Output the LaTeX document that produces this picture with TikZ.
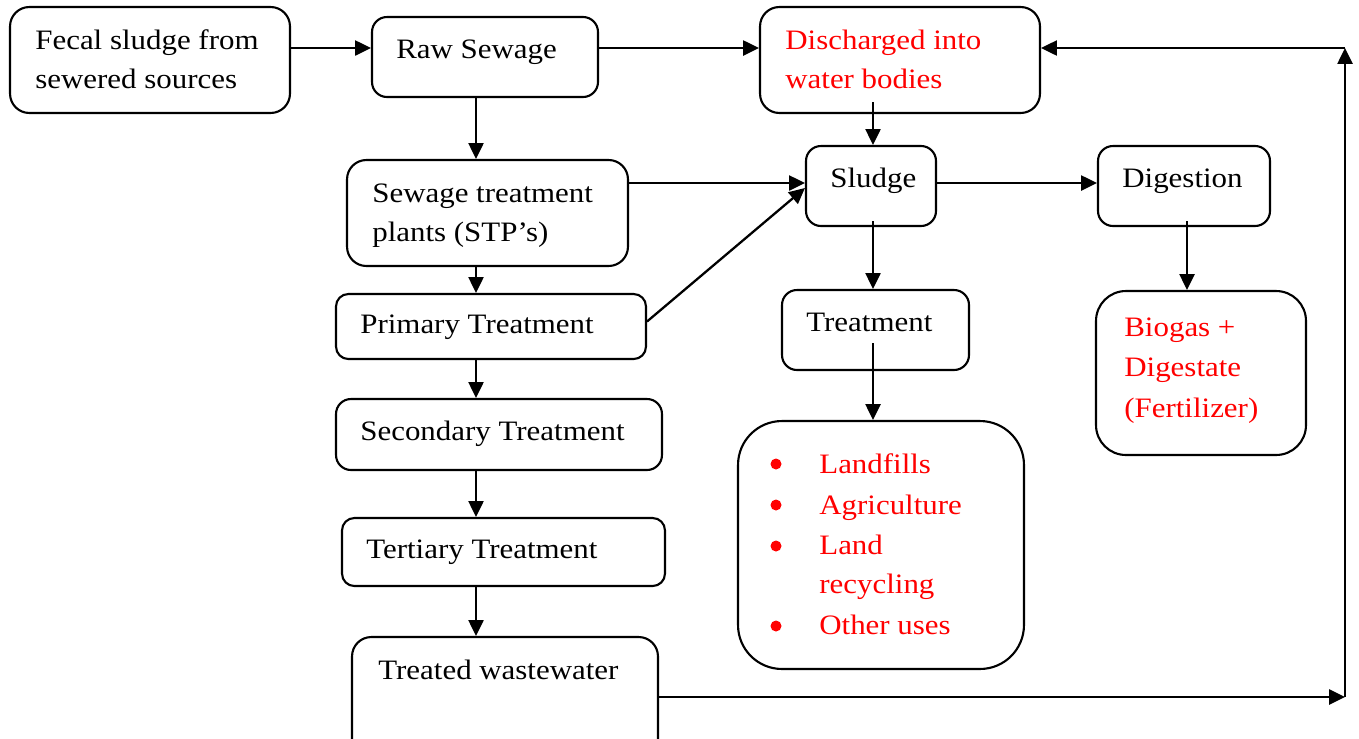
\documentclass[tikz,border=0pt]{standalone}
\usepackage{fontspec}
\setmainfont{Liberation Serif}[FakeStretch=1.1]
\usetikzlibrary{arrows.meta}
\definecolor{outred}{RGB}{255,0,0}
\begin{document}
\begin{tikzpicture}[x=0.02cm, y=-0.02cm,
  box/.style={draw, line width=1.2pt, rounded corners=8.5pt, inner sep=0pt},
  lbl/.style={anchor=base west, inner sep=0pt, align=left,
    font=\fontsize{16}{22.2}\selectfont},
  redlbl/.style={lbl, text=outred},
  dot/.style={circle, fill=outred, inner sep=0pt, minimum size=0.22cm},
  flow/.style={line width=1.3pt, -{Triangle[length=9pt, width=8.5pt]}}]
\useasboundingbox (0,0) rectangle (1359,738);

% boxes
\node[box, rounded corners=11pt, minimum width=5.6cm, minimum height=2.12cm] (fecal) at (150,60) {};
\node[box, minimum width=4.52cm, minimum height=1.6cm] (raw) at (485,57) {};
\node[box, rounded corners=11pt, minimum width=5.6cm, minimum height=2.12cm] (dis) at (900,60) {};
\node[box, rounded corners=11pt, minimum width=5.62cm, minimum height=2.12cm] (stp) at (487.5,213) {};
\node[box, rounded corners=7pt, minimum width=6.2cm, minimum height=1.3cm] (prim) at (491,326.5) {};
\node[box, minimum width=6.52cm, minimum height=1.42cm] (sec) at (499,434.5) {};
\node[box, rounded corners=7pt, minimum width=6.46cm, minimum height=1.36cm] (ter) at (503.5,552) {};
\node[box, rounded corners=11pt, minimum width=6.12cm, minimum height=2.46cm] (tww) at (505,698.5) {};
\node[box, minimum width=2.6cm, minimum height=1.6cm] (sludge) at (871,186) {};
\node[box, minimum width=3.44cm, minimum height=1.6cm] (dig) at (1184,186) {};
\node[box, minimum width=3.74cm, minimum height=1.6cm] (treat) at (875.5,330) {};
\node[box, rounded corners=25pt, minimum width=5.72cm, minimum height=4.96cm] (uses) at (881,545) {};
\node[box, rounded corners=17pt, minimum width=4.2cm, minimum height=3.28cm] (bio) at (1201,373) {};

% box texts (multi-line texts are placed by their last baseline)
\node[lbl] (fecal-t) at (35,88) {Fecal sludge from\\sewered sources};
\node[lbl] (raw-t) at (396,58) {Raw Sewage};
\node[redlbl] (dis-t) at (785,88) {Discharged into\\water bodies};
\node[lbl] (stp-t) at (372,241) {Sewage treatment\\plants (STP’s)};
\node[lbl] (prim-t) at (360,333) {Primary Treatment};
\node[lbl] (sec-t) at (360,440) {Secondary Treatment};
\node[lbl] (ter-t) at (366,558) {Tertiary Treatment};
\node[lbl] (tww-t) at (378,679) {Treated wastewater};
\node[lbl] (sludge-t) at (830,187) {Sludge};
\node[lbl] (dig-t) at (1122,187) {Digestion};
\node[lbl] (treat-t) at (806,331) {Treatment};
\node[redlbl, font=\fontsize{16}{22.8}\selectfont] (bio-t) at (1124,417) {Biogas +\\Digestate\\(Fertilizer)};

% list of sludge uses
\node[dot] (b1) at (776,464) {};
\node[dot] (b2) at (776,505) {};
\node[dot] (b3) at (776,546) {};
\node[dot] (b4) at (776,626) {};
\node[redlbl] (u1) at (819,473) {Landfills};
\node[redlbl] (u2) at (819,514) {Agriculture};
\node[redlbl] (u3) at (819,593) {Land\\recycling};
\node[redlbl] (u4) at (819,634) {Other uses};

% guide positions for the connectors
\coordinate (top) at (0,48);
\coordinate (mid) at (0,183);
\coordinate (colA) at (476,0);
\coordinate (colB) at (873,0);
\coordinate (colC) at (1187,0);
\coordinate (c1) at (1345,697);
\coordinate (c2) at (1345,48);

% connectors
\draw[flow] (fecal.east |- top) -- (raw.west |- top);
\draw[flow] (raw.east |- top) -- (dis.west |- top);
\draw[flow] (raw.south -| colA) -- (stp.north -| colA);
\draw[flow] (stp.south -| colA) -- (prim.north -| colA);
\draw[flow] (prim.south -| colA) -- (sec.north -| colA);
\draw[flow] (sec.south -| colA) -- (ter.north -| colA);
\draw[flow] (ter.south -| colA) -- (tww.north -| colA);
\draw[flow] (stp.east |- mid) -- (sludge.west |- mid);
\draw[flow] ([yshift=0.1cm]prim.east) -- ([yshift=-0.04cm]sludge.west);
\draw[flow] ([yshift=0.24cm]dis.south -| colB) -- (sludge.north -| colB);
\draw[flow] (sludge.east |- mid) -- (dig.west |- mid);
\draw[flow] ([yshift=0.12cm]sludge.south -| colB) -- (treat.north -| colB);
\draw[flow] ([yshift=0.12cm]dig.south -| colC) -- (bio.north -| colC);
\draw[flow] ([yshift=0.56cm]treat.south -| colB) -- (uses.north -| colB);
\draw[flow] (tww.east |- c1) -- (c1);
\draw[flow] (c1) -- (c2);
\draw[flow] (c2) -- (dis.east |- c2);
\end{tikzpicture}
\end{document}
